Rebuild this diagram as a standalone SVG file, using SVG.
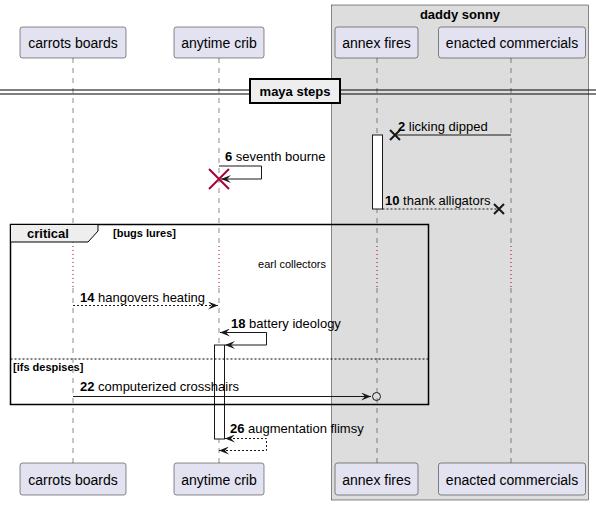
<svg xmlns="http://www.w3.org/2000/svg" width="596" height="505" viewBox="0 0 596 505">
<defs>
<style>
text{font-family:"Liberation Sans",Arial,sans-serif;fill:#000}
.pbox{fill:#E2E2F0;stroke:#181818;stroke-width:0.5}
.ptxt{font-size:14px;text-anchor:middle}
.life{stroke:#181818;stroke-width:0.5;stroke-dasharray:5,5;fill:none}
.delay{stroke:#A80036;stroke-width:1;stroke-dasharray:1,3;fill:none}
.msg{stroke:#181818;stroke-width:1;fill:none}
.dash{stroke-dasharray:2,2}
.mtxt{font-size:13px}
.num{font-weight:bold}
.act{fill:#FFFFFF;stroke:#181818;stroke-width:1}
.bold{font-weight:bold}
</style>
<marker id="ah" viewBox="0 0 10 8" refX="10" refY="4" markerWidth="10" markerHeight="8" orient="auto-start-reverse" markerUnits="userSpaceOnUse">
<polygon points="0,0 10,4 0,8 4,4" fill="#181818"/>
</marker>
</defs>
<rect width="596" height="505" fill="#FFFFFF"/>

<g id="box-daddy-sonny">
<rect x="331.5" y="5" width="257" height="495" fill="#DDDDDD" stroke="#181818" stroke-width="0.5"/>
<text x="460" y="19" font-size="13" class="bold" text-anchor="middle">daddy sonny</text>
</g>

<g id="lifelines">
<line class="life" x1="73" y1="58" x2="73" y2="463"/>
<line class="life" x1="219" y1="58" x2="219" y2="463"/>
<line class="life" x1="377" y1="58" x2="377" y2="463"/>
<line class="life" x1="511" y1="58" x2="511" y2="463"/>
</g>

<g id="p-carrots-boards">
<rect class="pbox" x="20" y="27" width="106" height="31" rx="2.5"/>
<text class="ptxt" x="73" y="48">carrots boards</text>
<rect class="pbox" x="20" y="463" width="106" height="32" rx="2.5"/>
<text class="ptxt" x="73" y="485">carrots boards</text>
</g>
<g id="p-anytime-crib">
<rect class="pbox" x="174" y="27" width="90" height="31" rx="2.5"/>
<text class="ptxt" x="219" y="48">anytime crib</text>
<rect class="pbox" x="174" y="463" width="90" height="32" rx="2.5"/>
<text class="ptxt" x="219" y="485">anytime crib</text>
</g>
<g id="p-annex-fires">
<rect class="pbox" x="335" y="27" width="83" height="31" rx="2.5"/>
<text class="ptxt" x="376.5" y="48">annex fires</text>
<rect class="pbox" x="335" y="463" width="83" height="32" rx="2.5"/>
<text class="ptxt" x="376.5" y="485">annex fires</text>
</g>
<g id="p-enacted-commercials">
<rect class="pbox" x="438.5" y="27" width="147" height="31" rx="2.5"/>
<text class="ptxt" x="512" y="48">enacted commercials</text>
<rect class="pbox" x="438.5" y="463" width="147" height="32" rx="2.5"/>
<text class="ptxt" x="512" y="485">enacted commercials</text>
</g>

<g id="divider-maya-steps">
<line x1="0" y1="90" x2="596" y2="90" stroke="#000" stroke-width="1"/>
<line x1="0" y1="94" x2="596" y2="94" stroke="#000" stroke-width="1"/>
<rect x="250" y="79" width="90" height="24" fill="#EEEEEE" stroke="#000" stroke-width="2"/>
<text x="295" y="96" font-size="13" class="bold" text-anchor="middle">maya steps</text>
</g>

<g id="activations">
<rect class="act" x="372.5" y="135" width="10" height="74"/>
<rect class="act" x="214.5" y="345" width="10" height="94"/>
</g>

<g id="frame-critical">
<rect x="10.5" y="224.5" width="418" height="180" fill="none" stroke="#000" stroke-width="1.5"/>
<polygon points="10.5,224.5 98,224.5 98,231 88,242 10.5,242" fill="#EEEEEE" stroke="#000" stroke-width="1"/>
<text x="27" y="238" font-size="13" class="bold">critical</text>
<text x="113" y="237" font-size="11" class="bold">[bugs lures]</text>
<line x1="10.5" y1="359" x2="428.5" y2="359" stroke="#000" stroke-width="1" stroke-dasharray="2,2"/>
<text x="13" y="371" font-size="11" class="bold">[ifs despises]</text>
</g>

<g id="delay">
<rect x="70" y="245" width="6" height="43" fill="#FFFFFF"/>
<rect x="216" y="245" width="6" height="43" fill="#FFFFFF"/>
<rect x="374" y="245" width="6" height="43" fill="#DDDDDD"/>
<rect x="508" y="245" width="6" height="43" fill="#DDDDDD"/>
<line class="delay" x1="73" y1="246" x2="73" y2="287"/>
<line class="delay" x1="219" y1="246" x2="219" y2="287"/>
<line class="delay" x1="377" y1="246" x2="377" y2="287"/>
<line class="delay" x1="511" y1="246" x2="511" y2="287"/>
<text x="292" y="268" font-size="11" text-anchor="middle">earl collectors</text>
</g>

<g id="connectors">
<!-- 2 -->
<line class="msg" x1="511" y1="135" x2="395" y2="135"/>
<path d="M390,130 L400,140 M390,140 L400,130" stroke="#181818" stroke-width="2" fill="none"/>
<text class="mtxt" x="398" y="131"><tspan class="num">2</tspan> licking dipped</text>
<!-- 6 -->
<polyline class="msg" points="219,166 261.5,166 261.5,179 221,179" marker-end="url(#ah)"/>
<path d="M209,169 L229,189 M209,189 L229,169" stroke="#A80036" stroke-width="2" fill="none"/>
<text class="mtxt" x="225" y="161"><tspan class="num">6</tspan> seventh bourne</text>
<!-- 10 -->
<line class="msg dash" x1="382.5" y1="209" x2="499" y2="209"/>
<path d="M494,204 L504,214 M494,214 L504,204" stroke="#181818" stroke-width="2" fill="none"/>
<text class="mtxt" x="385" y="205"><tspan class="num">10</tspan> thank alligators</text>
<!-- 14 -->
<line class="msg dash" x1="73" y1="305.5" x2="218" y2="305.5" marker-end="url(#ah)"/>
<text class="mtxt" x="80" y="302"><tspan class="num">14</tspan> hangovers heating</text>
<!-- 18 -->
<polyline class="msg" points="220,332.5 266.5,332.5 266.5,345 225,345" marker-start="url(#ah)" marker-end="url(#ah)"/>
<text class="mtxt" x="231" y="328"><tspan class="num">18</tspan> battery ideology</text>
<!-- 22 -->
<line class="msg" x1="73" y1="396.5" x2="371" y2="396.5" marker-end="url(#ah)"/>
<circle cx="376.5" cy="396.5" r="4" fill="none" stroke="#181818" stroke-width="1"/>
<text class="mtxt" x="80" y="391"><tspan class="num">22</tspan> computerized crosshairs</text>
<!-- 26 -->
<polyline class="msg dash" points="225,438.5 266.5,438.5 266.5,450.5 219,450.5" marker-start="url(#ah)" marker-end="url(#ah)"/>
<text class="mtxt" x="230" y="433"><tspan class="num">26</tspan> augmentation flimsy</text>
</g>
</svg>
